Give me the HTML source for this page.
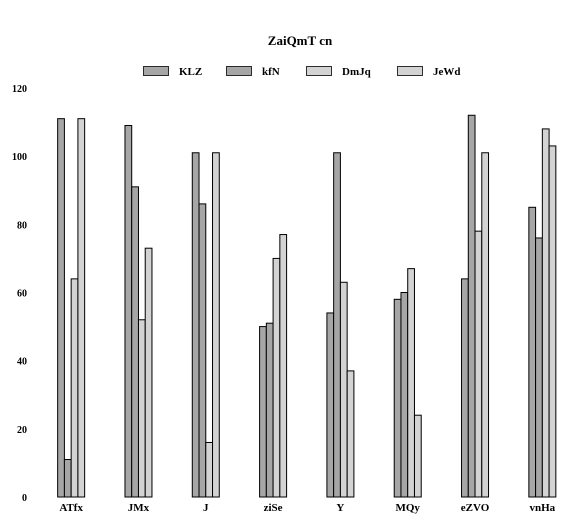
<!DOCTYPE html>
<html><head><meta charset="utf-8"><style>
html,body{margin:0;padding:0;background:#fff;}
svg{display:block;font-family:"Liberation Serif",serif;font-weight:bold;}
</style></head><body>
<svg id="chart" width="580" height="522">
<text x="300" y="45" text-anchor="middle" font-size="13">ZaiQmT cn</text>
<g id="legend"></g>
<g id="yaxis"></g>
<g id="bars"></g>
<g id="xaxis"></g>
</svg>
<script>
const categories = ["ATfx","JMx","J","ziSe","Y","MQy","eZVO","vnHa"];
const seriesNames = ["KLZ","kfN","DmJq","JeWd"];
const klz = [111,109,101,50,54,58,64,85];
const kfn = [11,91,86,51,101,60,112,76];
const dmjq = [64,52,16,70,63,67,78,108];
const jewd = [111,73,101,77,37,24,101,103];
const yTicks = [0,20,40,60,80,100,120];

const series = [klz,kfn,dmjq,jewd];
const colors = ["#a6a6a6","#a6a6a6","#d3d3d3","#d3d3d3"];
const NS = "http://www.w3.org/2000/svg";
const plotLeft = 37.5, plotRight = 576, plotBase = 497, plotTop = 88, yMax = 120;
const band = (plotRight-plotLeft)/categories.length, bw = 6.75;
function yS(v){return plotBase - v/yMax*(plotBase-plotTop);}
function xc(i){return plotLeft + band*(i+0.5);}
function mk(tag, attrs, parent){const e=document.createElementNS(NS,tag);for(const k in attrs)e.setAttribute(k,attrs[k]);parent.appendChild(e);return e;}

const ya = document.getElementById('yaxis');
yTicks.forEach(t=>{
  const e = mk('text',{x:27,y:yS(t)+4,'text-anchor':'end','font-size':10},ya);
  e.textContent = t;
  
  
});
const xa = document.getElementById('xaxis');
const bg = document.getElementById('bars');
categories.forEach((c,i)=>{
  const e = mk('text',{x:xc(i),y:plotBase+14,'text-anchor':'middle','font-size':11},xa);
  e.textContent = c;
  
  
  series.forEach((s,j)=>{
    const x0 = xc(i) - 2*bw + j*bw;
    const r = mk('rect',{x:x0,y:yS(s[i]),width:bw,height:plotBase-yS(s[i]),fill:colors[j],stroke:'#000','stroke-width':1},bg);
    
    
  });
});
const lg = document.getElementById('legend');
const lx = [143,226,306,397];
seriesNames.forEach((n,j)=>{
  const r = mk('rect',{x:lx[j]+0.5,y:66.5,width:25,height:9,fill:colors[j],stroke:'#000','stroke-width':0.8},lg);
  
  
  const t = mk('text',{x:lx[j]+36,y:75,'font-size':11},lg);
  t.textContent = n;
  
  
});
</script>
</body></html>
